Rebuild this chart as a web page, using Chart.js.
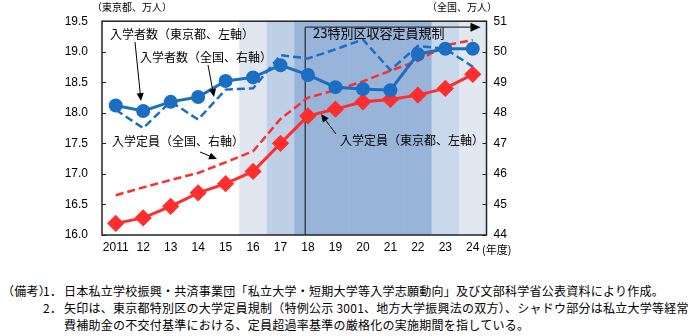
<!DOCTYPE html>
<html lang="ja">
<head>
<meta charset="utf-8">
<script src="https://cdn.jsdelivr.net/npm/chart.js@4.4.1/dist/chart.umd.min.js"></script>
<style>
  body { margin: 0; background: #fff; }
  #wrap { position: relative; width: 688px; height: 336px; overflow: hidden; }
  #chart { position: absolute; left: 0; top: 0; }
  .note {
    position: absolute; white-space: nowrap;
    font: 12px "Noto Sans CJK JP", sans-serif; color: #000; line-height: 17px;
    letter-spacing: 0.25px;
  }
</style>
</head>
<body>
<div id="wrap">
  <canvas id="chart" width="688" height="262"></canvas>
  <div class="note" style="left:2px; top:282px;">（備考）</div>
  <div class="note" style="left:43px; top:282px;">1．</div>
  <div class="note" style="left:64px; top:282px;">日本私立学校振興・共済事業団「私立大学・短期大学等入学志願動向」及び文部科学省公表資料により作成。</div>
  <div class="note" style="left:43px; top:299px;">2．</div>
  <div class="note" style="left:64px; top:299px;">矢印は、東京都特別区の大学定員規制（特例公示 3001、地方大学振興法の双方）、シャドウ部分は私立大学等経常</div>
  <div class="note" style="left:64px; top:316px;">費補助金の不交付基準における、定員超過率基準の厳格化の実施期間を指している。</div>
</div>
<script>
// 年度ラベル
const years = ['2011', '12', '13', '14', '15', '16', '17', '18', '19', '20', '21', '22', '23', '24'];

// 東京都（左軸、万人）
const tokyoEntrants = [18.12, 18.03, 18.18, 18.26, 18.52, 18.58, 18.78, 18.62, 18.42, 18.39, 18.37, 18.96, 19.05, 19.05];
const tokyoCapacity = [16.19, 16.28, 16.47, 16.69, 16.84, 17.04, 17.50, 17.95, 18.06, 18.18, 18.22, 18.29, 18.40, 18.63];

// 全国（右軸、万人）
const nationalEntrants = [48.10, 47.50, 48.37, 47.78, 48.76, 48.80, 49.89, 49.78, 50.08, 50.40, 49.40, 50.19, 50.10, 49.51];
const nationalCapacity = [45.30, 45.56, 45.80, 46.03, 46.38, 46.74, 47.80, 48.50, 48.74, 49.03, 49.38, 49.70, 50.21, 50.38];

// シャドウ部分（年度ごとの濃さ）
const shadeColors = [null, null, null, null, null,
  '#dfe6f0', '#bed0e6', '#98b4d8', '#98b4d8', '#98b4d8', '#98b4d8', '#98b4d8', '#c9d8eb', '#e2e8f1'];

const BLUE = '#1b6ec2';
const RED = '#ff2e2e';
const JP = '"Noto Sans CJK JP", sans-serif';
const NUM = '"Liberation Sans Narrow", "Liberation Sans", sans-serif';

function arrow(ctx, x1, y1, x2, y2, head) {
  const ang = Math.atan2(y2 - y1, x2 - x1);
  const h = head || 8;
  ctx.beginPath();
  ctx.moveTo(x1, y1);
  ctx.lineTo(x2 - Math.cos(ang) * h * 0.8, y2 - Math.sin(ang) * h * 0.8);
  ctx.stroke();
  ctx.beginPath();
  ctx.moveTo(x2, y2);
  ctx.lineTo(x2 - h * Math.cos(ang) + (h * 0.45) * Math.sin(ang), y2 - h * Math.sin(ang) - (h * 0.45) * Math.cos(ang));
  ctx.lineTo(x2 - h * Math.cos(ang) - (h * 0.45) * Math.sin(ang), y2 - h * Math.sin(ang) + (h * 0.45) * Math.cos(ang));
  ctx.closePath();
  ctx.fill();
}

const shadePlugin = {
  id: 'shade',
  beforeDatasetsDraw(chart) {
    const { ctx, chartArea: a, scales: { x } } = chart;
    const w = x.getPixelForValue(1) - x.getPixelForValue(0);
    ctx.save();
    shadeColors.forEach((c, i) => {
      if (!c) return;
      const cx = x.getPixelForValue(i);
      ctx.fillStyle = c;
      ctx.fillRect(cx - w / 2, a.top, w + 0.5, a.bottom - a.top);
    });
    // 23特別区収容定員規制（2018年度～）
    const lx = x.getPixelForValue(6.9);
    ctx.strokeStyle = '#333';
    ctx.fillStyle = '#000';
    ctx.lineWidth = 1.3;
    ctx.beginPath();
    ctx.moveTo(lx, a.bottom);
    ctx.lineTo(lx, a.top + 6);
    ctx.stroke();
    ctx.lineWidth = 1.2;
    arrow(ctx, lx, a.top + 6, a.right - 6, a.top + 6, 10);
    ctx.restore();
  }
};

const framePlugin = {
  id: 'frame',
  afterDatasetsDraw(chart) {
    const { ctx, chartArea: a, scales: { y, y1 } } = chart;
    ctx.save();
    ctx.strokeStyle = '#222';
    ctx.lineWidth = 1.5;
    ctx.strokeRect(a.left, a.top, a.right - a.left, a.bottom - a.top);
    ctx.lineWidth = 1;
    y.ticks.forEach(t => {
      const py = Math.round(y.getPixelForValue(t.value)) + 0.5;
      ctx.beginPath(); ctx.moveTo(a.left, py); ctx.lineTo(a.left + 4, py); ctx.stroke();
    });
    y1.ticks.forEach(t => {
      const py = Math.round(y1.getPixelForValue(t.value)) + 0.5;
      ctx.beginPath(); ctx.moveTo(a.right, py); ctx.lineTo(a.right - 4, py); ctx.stroke();
    });

    // 系列名と矢印
    ctx.fillStyle = '#000';
    ctx.textBaseline = 'middle';
    ctx.font = '12px ' + JP;
    ctx.fillText('入学者数（東京都、左軸）', 110, 34);
    ctx.fillText('入学者数（全国、右軸）', 140, 57);
    ctx.fillText('入学定員（全国、右軸）', 112, 141);
    ctx.fillText('入学定員（東京都、左軸）', 340, 140);
    ctx.font = '13px ' + JP;
    ctx.fillText('23特別区収容定員規制', 313, 33);

    ctx.strokeStyle = '#000';
    ctx.lineWidth = 1;
    arrow(ctx, 135, 42, 141, 101, 8);
    arrow(ctx, 208, 65, 214, 97, 8);
    arrow(ctx, 200, 152, 217, 159, 8);
    arrow(ctx, 336, 134, 321, 114, 8);

    // 軸の単位
    ctx.font = '10px ' + JP;
    ctx.fillText('（東京都、万人）', 92, 7);
    ctx.fillText('（全国、万人）', 427, 7);
    ctx.font = '11px ' + JP;
    ctx.fillText('(年度)', 482, 250);
    ctx.restore();
  }
};

new Chart(document.getElementById('chart'), {
  type: 'line',
  data: {
    labels: years,
    datasets: [
      {
        label: '入学者数（東京都、左軸）',
        data: tokyoEntrants,
        yAxisID: 'y',
        borderColor: BLUE,
        backgroundColor: BLUE,
        borderWidth: 3,
        pointStyle: 'circle',
        pointRadius: 5.5,
        order: 1
      },
      {
        label: '入学定員（東京都、左軸）',
        data: tokyoCapacity,
        yAxisID: 'y',
        borderColor: RED,
        backgroundColor: RED,
        borderWidth: 3,
        pointStyle: 'rectRot',
        pointRadius: 6.5,
        order: 2
      },
      {
        label: '入学者数（全国、右軸）',
        data: nationalEntrants,
        yAxisID: 'y1',
        borderColor: BLUE,
        borderWidth: 2.5,
        borderDash: [8, 4],
        pointRadius: 0,
        order: 3
      },
      {
        label: '入学定員（全国、右軸）',
        data: nationalCapacity,
        yAxisID: 'y1',
        borderColor: RED,
        borderWidth: 2.5,
        borderDash: [8, 4],
        pointRadius: 0,
        order: 4
      }
    ]
  },
  options: {
    responsive: false,
    devicePixelRatio: 1,
    animation: false,
    layout: { padding: { top: 17, left: 0, right: 0, bottom: 0 } },
    plugins: { legend: { display: false }, tooltip: { enabled: false } },
    scales: {
      x: {
        offset: true,
        grid: { display: false, drawTicks: false },
        border: { display: false },
        ticks: { color: '#000', font: { family: NUM, size: 12 }, padding: 5, maxRotation: 0, autoSkip: false },
        afterFit: s => { s.height = 27; }
      },
      y: {
        position: 'left',
        min: 16, max: 19.5,
        grid: { display: false, drawTicks: false },
        border: { display: false },
        ticks: { stepSize: 0.5, color: '#000', font: { family: NUM, size: 12 }, padding: 14,
                 callback: v => v.toFixed(1) },
        afterFit: s => { s.width = 102; }
      },
      y1: {
        position: 'right',
        min: 44, max: 51,
        grid: { display: false, drawTicks: false },
        border: { display: false },
        ticks: { stepSize: 1, color: '#000', font: { family: NUM, size: 12 }, padding: 7 },
        afterFit: s => { s.width = 201.5; }
      }
    }
  },
  plugins: [shadePlugin, framePlugin]
});
</script>
</body>
</html>
